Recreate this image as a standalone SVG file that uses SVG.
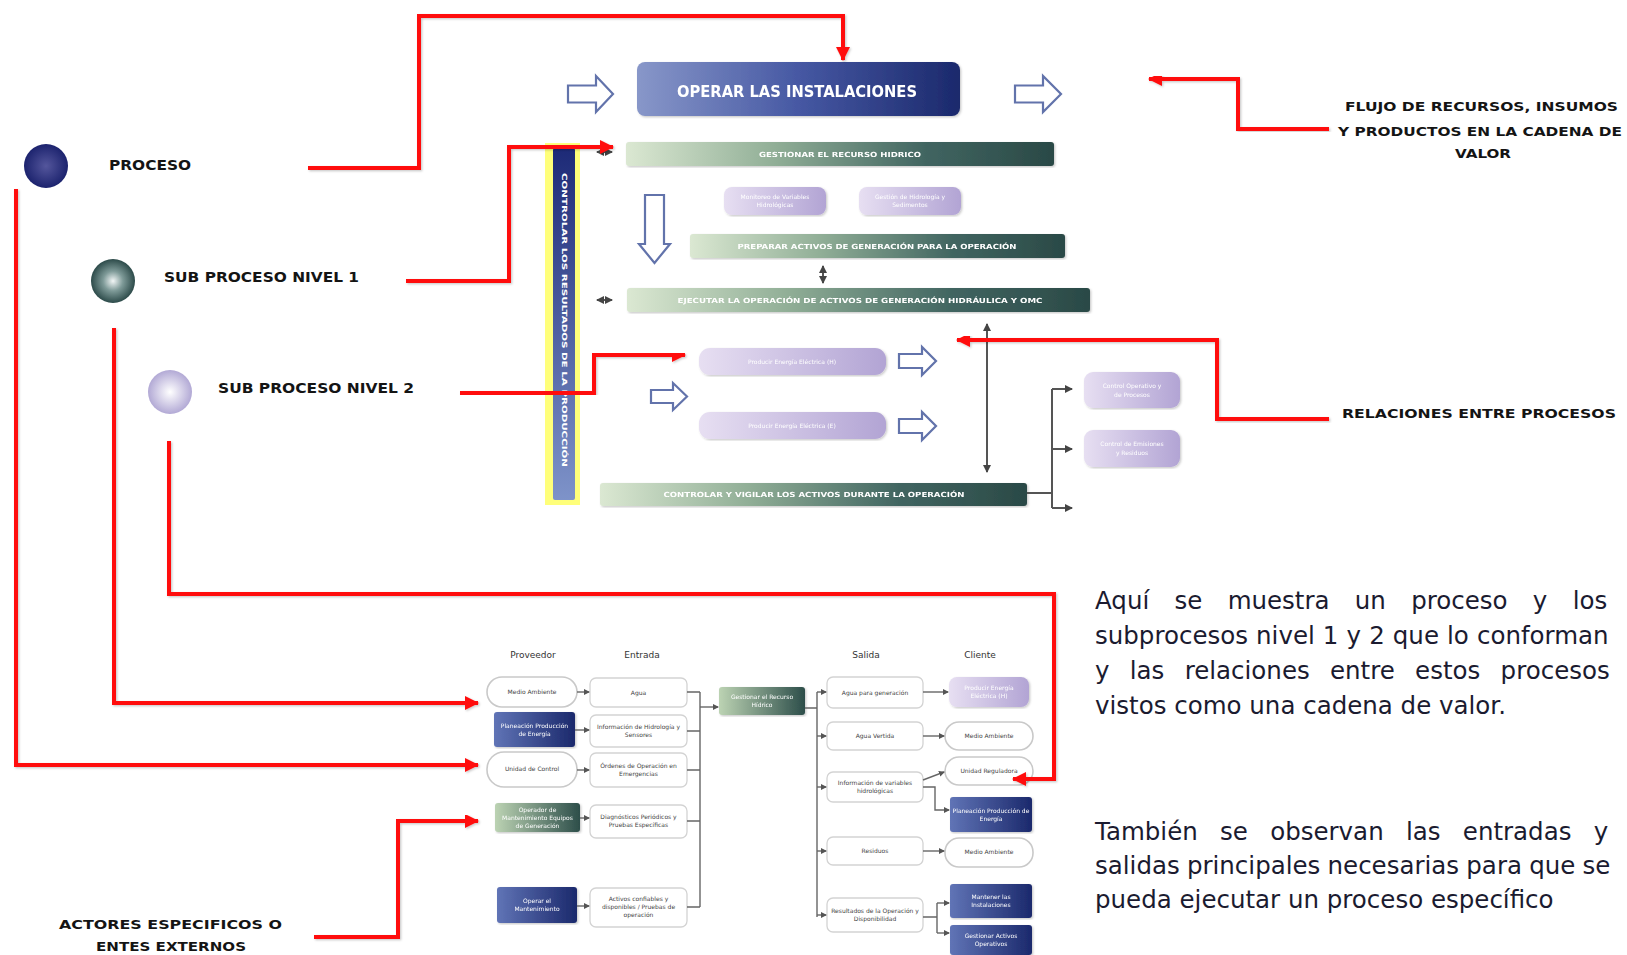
<svg xmlns="http://www.w3.org/2000/svg" width="1627" height="955" viewBox="0 0 1627 955">
  <style>
    .lbl { font-family: "DejaVu Sans", "Liberation Sans", sans-serif; font-weight: bold; font-size: 14px; fill: #141414; }
    .lbl-s { font-family: "DejaVu Sans", "Liberation Sans", sans-serif; font-weight: bold; font-size: 13px; fill: #141414; }
    .para { font-family: "DejaVu Sans", "Liberation Sans", sans-serif; font-size: 24.5px; fill: #1b1b30; }
    .title { font-family: "DejaVu Sans", "Liberation Sans", sans-serif; font-weight: bold; font-size: 16px; fill: #ffffff; text-anchor: middle; }
    .bar-t { font-family: "DejaVu Sans", "Liberation Sans", sans-serif; font-weight: bold; font-size: 7px; fill: #ffffff; text-anchor: middle; }
    .sw { font-family: "DejaVu Sans", "Liberation Sans", sans-serif; font-size: 6px; fill: #ffffff; text-anchor: middle; }
    .sd { font-family: "DejaVu Sans", "Liberation Sans", sans-serif; font-size: 6px; fill: #444444; text-anchor: middle; }
    .hdr { font-family: "DejaVu Sans", "Liberation Sans", sans-serif; font-size: 9px; fill: #333333; text-anchor: middle; }
    .hollow { fill: #ffffff; stroke: #6273ab; stroke-width: 2.2; }
    .red { fill: none; stroke: #ff0a0a; stroke-width: 4; stroke-linejoin: miter; marker-end: url(#redHead); filter: url(#shade); }
    .gray { fill: none; stroke: #555555; stroke-width: 2; }
    .gray-a { fill: none; stroke: #555555; stroke-width: 2; marker-end: url(#grayHead); }
    .gray-aa { fill: none; stroke: #555555; stroke-width: 2; marker-start: url(#grayHeadStart); marker-end: url(#grayHead); }
    .thin { fill: none; stroke: #666666; stroke-width: 1.4; }
    .thin-a { fill: none; stroke: #666666; stroke-width: 1.4; marker-end: url(#tinyHead); }
    .pill { fill: #ffffff; stroke: #c9c9c9; stroke-width: 1.6; }
    .wbox { fill: #ffffff; stroke: #d3d3d3; stroke-width: 1.3; }
  </style>
  <defs>
    <linearGradient id="gOperar" x1="0" y1="0" x2="1" y2="0">
      <stop offset="0" stop-color="#8897c9"/>
      <stop offset="0.5" stop-color="#4658a3"/>
      <stop offset="1" stop-color="#1b296c"/>
    </linearGradient>
    <linearGradient id="gBar" x1="0" y1="0" x2="1" y2="0">
      <stop offset="0" stop-color="#dbe8d2"/>
      <stop offset="0.35" stop-color="#90ae96"/>
      <stop offset="0.7" stop-color="#416561"/>
      <stop offset="1" stop-color="#2a4946"/>
    </linearGradient>
    <linearGradient id="gLav" x1="0" y1="0" x2="1" y2="0">
      <stop offset="0" stop-color="#e7dff2"/>
      <stop offset="1" stop-color="#b2a4d4"/>
    </linearGradient>
    <linearGradient id="gNavy" x1="0" y1="0" x2="1" y2="0">
      <stop offset="0" stop-color="#6074b6"/>
      <stop offset="1" stop-color="#1b296c"/>
    </linearGradient>
    <linearGradient id="gGreen" x1="0" y1="0" x2="1" y2="0">
      <stop offset="0" stop-color="#bcd3b3"/>
      <stop offset="1" stop-color="#2d4e4a"/>
    </linearGradient>
    <linearGradient id="gVert" x1="0" y1="0" x2="0" y2="1">
      <stop offset="0" stop-color="#1d2a77"/>
      <stop offset="1" stop-color="#7e93c9"/>
    </linearGradient>
    <radialGradient id="gC1" cx="0.5" cy="0.5" r="0.5">
      <stop offset="0" stop-color="#54569c"/>
      <stop offset="1" stop-color="#1c236e"/>
    </radialGradient>
    <radialGradient id="gC2" cx="0.5" cy="0.5" r="0.5">
      <stop offset="0" stop-color="#f2f6f6"/>
      <stop offset="0.45" stop-color="#7e9a98"/>
      <stop offset="1" stop-color="#2c4a49"/>
    </radialGradient>
    <radialGradient id="gC3" cx="0.5" cy="0.5" r="0.5">
      <stop offset="0" stop-color="#ffffff"/>
      <stop offset="1" stop-color="#b2a9d5"/>
    </radialGradient>
    <filter id="shade" x="-5%" y="-5%" width="110%" height="110%">
      <feDropShadow dx="1.2" dy="1.2" stdDeviation="1.2" flood-color="#000000" flood-opacity="0.22"/>
    </filter>
    <marker id="redHead" viewBox="0 0 14 14" refX="13" refY="7" markerWidth="14" markerHeight="14" markerUnits="userSpaceOnUse" orient="auto">
      <path d="M0,0 L14,7 L0,14 Z" fill="#ff0a0a"/>
    </marker>
    <marker id="grayHead" viewBox="0 0 8 8" refX="7" refY="4" markerWidth="8" markerHeight="8" markerUnits="userSpaceOnUse" orient="auto">
      <path d="M0,0 L8,4 L0,8 Z" fill="#444444"/>
    </marker>
    <marker id="grayHeadStart" viewBox="0 0 8 8" refX="7" refY="4" markerWidth="8" markerHeight="8" markerUnits="userSpaceOnUse" orient="auto-start-reverse">
      <path d="M0,0 L8,4 L0,8 Z" fill="#444444"/>
    </marker>
    <marker id="tinyHead" viewBox="0 0 6 6" refX="5" refY="3" markerWidth="6" markerHeight="6" markerUnits="userSpaceOnUse" orient="auto">
      <path d="M0,0 L6,3 L0,6 Z" fill="#555555"/>
    </marker>
  </defs>

  <rect width="1627" height="955" fill="#ffffff"/>

  <!-- legend -->
  <g id="legend-proceso">
    <circle cx="46" cy="166" r="22" fill="url(#gC1)"/>
    <text class="lbl" x="109" y="170" textLength="82" lengthAdjust="spacingAndGlyphs">PROCESO</text>
  </g>
  <g id="legend-subproceso-1">
    <circle cx="113" cy="281" r="22" fill="url(#gC2)"/>
    <text class="lbl" x="164" y="282" textLength="195" lengthAdjust="spacingAndGlyphs">SUB PROCESO NIVEL 1</text>
  </g>
  <g id="legend-subproceso-2">
    <circle cx="170" cy="392" r="22" fill="url(#gC3)"/>
    <text class="lbl" x="218" y="393" textLength="196" lengthAdjust="spacingAndGlyphs">SUB PROCESO NIVEL 2</text>
  </g>
  <g id="legend-actores">
    <text class="lbl-s" x="59" y="929" textLength="223" lengthAdjust="spacingAndGlyphs">ACTORES ESPECIFICOS O</text>
    <text class="lbl-s" x="96" y="951" textLength="150" lengthAdjust="spacingAndGlyphs">ENTES EXTERNOS</text>
  </g>
  <g id="label-flujo">
    <text class="lbl-s" x="1345" y="111" textLength="273" lengthAdjust="spacingAndGlyphs">FLUJO DE RECURSOS, INSUMOS</text>
    <text class="lbl-s" x="1338" y="136" textLength="284" lengthAdjust="spacingAndGlyphs">Y PRODUCTOS EN LA CADENA  DE</text>
    <text class="lbl-s" x="1455" y="158" textLength="56" lengthAdjust="spacingAndGlyphs">VALOR</text>
  </g>
  <g id="label-relaciones">
    <text class="lbl-s" x="1342" y="418" textLength="274" lengthAdjust="spacingAndGlyphs">RELACIONES ENTRE  PROCESOS</text>
  </g>

  <!-- process map -->
  <g id="flow-in">
    <path class="hollow" d="M568,85.5 H596 V76 L613,94 L596,112 V102.5 H568 Z"/>
  </g>
  <g id="operar-instalaciones" filter="url(#shade)">
    <rect x="637" y="62" width="323" height="54" rx="8" fill="url(#gOperar)"/>
    <text class="title" x="797" y="97" textLength="240" lengthAdjust="spacingAndGlyphs">OPERAR LAS INSTALACIONES</text>
  </g>
  <g id="flow-out">
    <path class="hollow" d="M1015,85.5 H1043 V76 L1061,94 L1043,112 V102.5 H1015 Z"/>
  </g>

  <g id="controlar-resultados">
    <rect x="545" y="143" width="35" height="362" fill="#ffff7a"/>
    <rect x="553" y="148" width="22" height="352" rx="2" fill="url(#gVert)"/>
    <text class="bar-t" transform="translate(561.5,320) rotate(90)" x="0" y="0" textLength="294" lengthAdjust="spacingAndGlyphs">CONTROLAR LOS RESULTADOS DE LA PRODUCCIÓN</text>
  </g>

  <g id="gestionar-recurso" filter="url(#shade)">
    <rect x="626" y="142" width="428" height="24" rx="3" fill="url(#gBar)"/>
    <text class="bar-t" x="840" y="156.5" textLength="162" lengthAdjust="spacingAndGlyphs">GESTIONAR EL RECURSO HIDRICO</text>
  </g>
  <g id="monitoreo-variables" filter="url(#shade)">
    <rect x="724" y="187" width="102" height="28" rx="8" fill="url(#gLav)"/>
    <text class="sw" x="775" y="199">Monitoreo de Variables</text>
    <text class="sw" x="775" y="207">Hidrológicas</text>
  </g>
  <g id="gestion-hidrologia" filter="url(#shade)">
    <rect x="859" y="187" width="102" height="28" rx="8" fill="url(#gLav)"/>
    <text class="sw" x="910" y="199">Gestión de Hidrología y</text>
    <text class="sw" x="910" y="207">Sedimentos</text>
  </g>
  <g id="flow-down">
    <path class="hollow" d="M645,195 H664 V244 H670 L654.5,263 L639,244 H645 Z"/>
  </g>
  <g id="preparar-activos" filter="url(#shade)">
    <rect x="690" y="234" width="375" height="24" rx="3" fill="url(#gBar)"/>
    <text class="bar-t" x="877" y="248.5" textLength="279" lengthAdjust="spacingAndGlyphs">PREPARAR ACTIVOS DE GENERACIÓN PARA LA OPERACIÓN</text>
  </g>
  <g id="ejecutar-operacion" filter="url(#shade)">
    <rect x="627" y="288" width="463" height="24" rx="3" fill="url(#gBar)"/>
    <text class="bar-t" x="860" y="302.5" textLength="365" lengthAdjust="spacingAndGlyphs">EJECUTAR LA OPERACIÓN DE ACTIVOS DE GENERACIÓN HIDRÁULICA Y OMC</text>
  </g>
  <g id="producir-h" filter="url(#shade)">
    <rect x="699" y="348" width="187" height="27" rx="11" fill="url(#gLav)"/>
    <text class="sw" x="792" y="364">Producir Energía Eléctrica (H)</text>
  </g>
  <g id="producir-e" filter="url(#shade)">
    <rect x="699" y="412" width="187" height="27" rx="11" fill="url(#gLav)"/>
    <text class="sw" x="792" y="428">Producir Energía Eléctrica (E)</text>
  </g>
  <g id="flow-producir">
    <path class="hollow" d="M651,390 H673 V383 L687,396.5 L673,410 V403 H651 Z"/>
    <path class="hollow" d="M899,354 H922 V347 L936,361 L922,375 V368 H899 Z"/>
    <path class="hollow" d="M899,419 H922 V412 L936,426 L922,440 V433 H899 Z"/>
  </g>
  <g id="controlar-vigilar" filter="url(#shade)">
    <rect x="600" y="483" width="427" height="23" rx="3" fill="url(#gBar)"/>
    <text class="bar-t" x="814" y="497" textLength="301" lengthAdjust="spacingAndGlyphs">CONTROLAR Y VIGILAR LOS ACTIVOS DURANTE LA OPERACIÓN</text>
  </g>
  <g id="control-operativo" filter="url(#shade)">
    <rect x="1084" y="372" width="96" height="36" rx="9" fill="url(#gLav)"/>
    <text class="sw" x="1132" y="388">Control Operativo y</text>
    <text class="sw" x="1132" y="397">de Procesos</text>
  </g>
  <g id="control-emisiones" filter="url(#shade)">
    <rect x="1084" y="430" width="96" height="37" rx="9" fill="url(#gLav)"/>
    <text class="sw" x="1132" y="446">Control de Emisiones</text>
    <text class="sw" x="1132" y="455">y Residuos</text>
  </g>

  <!-- SIPOC -->
  <g id="sipoc-headers">
    <text class="hdr" x="533" y="658">Proveedor</text>
    <text class="hdr" x="642" y="658">Entrada</text>
    <text class="hdr" x="866" y="658">Salida</text>
    <text class="hdr" x="980" y="658">Cliente</text>
  </g>
  <g id="prov-medio-ambiente">
    <rect class="pill" x="487" y="677" width="90" height="30" rx="15"/>
    <text class="sd" x="532" y="694">Medio Ambiente</text>
  </g>
  <g id="prov-planeacion" filter="url(#shade)">
    <rect x="494" y="712" width="81" height="35" rx="3" fill="url(#gNavy)"/>
    <text class="sw" x="534.5" y="728">Planeación Producción</text>
    <text class="sw" x="534.5" y="736">de Energía</text>
  </g>
  <g id="prov-unidad-control">
    <rect class="pill" x="487" y="752" width="90" height="35" rx="17"/>
    <text class="sd" x="532" y="771">Unidad de Control</text>
  </g>
  <g id="prov-operador" filter="url(#shade)">
    <rect x="495" y="803" width="85" height="29" rx="3" fill="url(#gGreen)"/>
    <text class="sw" x="537.5" y="812">Operador de</text>
    <text class="sw" x="537.5" y="820">Mantenimiento Equipos</text>
    <text class="sw" x="537.5" y="828">de Generación</text>
  </g>
  <g id="prov-operar-mantenimiento" filter="url(#shade)">
    <rect x="497" y="887" width="80" height="36" rx="3" fill="url(#gNavy)"/>
    <text class="sw" x="537" y="903">Operar el</text>
    <text class="sw" x="537" y="911">Mantenimiento</text>
  </g>

  <g id="ent-agua">
    <rect class="wbox" x="590" y="678" width="97" height="29" rx="6"/>
    <text class="sd" x="638.5" y="695">Agua</text>
  </g>
  <g id="ent-informacion">
    <rect class="wbox" x="590" y="715" width="97" height="32" rx="6"/>
    <text class="sd" x="638.5" y="729">Información de Hidrología y</text>
    <text class="sd" x="638.5" y="737">Sensores</text>
  </g>
  <g id="ent-ordenes">
    <rect class="wbox" x="590" y="753" width="97" height="34" rx="6"/>
    <text class="sd" x="638.5" y="768">Órdenes de Operación en</text>
    <text class="sd" x="638.5" y="776">Emergencias</text>
  </g>
  <g id="ent-diagnosticos">
    <rect class="wbox" x="590" y="805" width="97" height="33" rx="6"/>
    <text class="sd" x="638.5" y="819">Diagnósticos Periódicos y</text>
    <text class="sd" x="638.5" y="827">Pruebas Específicas</text>
  </g>
  <g id="ent-activos">
    <rect class="wbox" x="590" y="888" width="97" height="39" rx="6"/>
    <text class="sd" x="638.5" y="901">Activos confiables y</text>
    <text class="sd" x="638.5" y="909">disponibles / Pruebas de</text>
    <text class="sd" x="638.5" y="917">operación</text>
  </g>

  <g id="proceso-central" filter="url(#shade)">
    <rect x="719" y="687" width="86" height="28" rx="3" fill="url(#gGreen)"/>
    <text class="sw" x="762" y="699">Gestionar el Recurso</text>
    <text class="sw" x="762" y="707">Hídrico</text>
  </g>

  <g id="sal-agua-generacion">
    <rect class="wbox" x="827" y="677" width="96" height="31" rx="6"/>
    <text class="sd" x="875" y="695">Agua para generación</text>
  </g>
  <g id="sal-agua-vertida">
    <rect class="wbox" x="827" y="722" width="96" height="28" rx="6"/>
    <text class="sd" x="875" y="738">Agua Vertida</text>
  </g>
  <g id="sal-informacion">
    <rect class="wbox" x="827" y="772" width="96" height="30" rx="6"/>
    <text class="sd" x="875" y="785">Información de variables</text>
    <text class="sd" x="875" y="793">hidrológicas</text>
  </g>
  <g id="sal-residuos">
    <rect class="wbox" x="827" y="837" width="96" height="28" rx="6"/>
    <text class="sd" x="875" y="853">Residuos</text>
  </g>
  <g id="sal-resultados">
    <rect class="wbox" x="827" y="898" width="96" height="34" rx="6"/>
    <text class="sd" x="875" y="913">Resultados de la Operación y</text>
    <text class="sd" x="875" y="921">Disponibilidad</text>
  </g>

  <g id="cli-producir" filter="url(#shade)">
    <rect x="949" y="677" width="80" height="30" rx="8" fill="url(#gLav)"/>
    <text class="sw" x="989" y="690">Producir Energía</text>
    <text class="sw" x="989" y="698">Eléctrica (H)</text>
  </g>
  <g id="cli-medio-ambiente-1">
    <rect class="pill" x="945" y="722" width="88" height="28" rx="14"/>
    <text class="sd" x="989" y="738">Medio Ambiente</text>
  </g>
  <g id="cli-unidad-reguladora">
    <rect class="pill" x="945" y="757" width="88" height="28" rx="14"/>
    <text class="sd" x="989" y="773">Unidad Reguladora</text>
  </g>
  <g id="cli-planeacion" filter="url(#shade)">
    <rect x="950" y="797" width="82" height="35" rx="3" fill="url(#gNavy)"/>
    <text class="sw" x="991" y="813">Planeación Producción de</text>
    <text class="sw" x="991" y="821">Energía</text>
  </g>
  <g id="cli-medio-ambiente-2">
    <rect class="pill" x="945" y="838" width="88" height="29" rx="14"/>
    <text class="sd" x="989" y="854">Medio Ambiente</text>
  </g>
  <g id="cli-mantener" filter="url(#shade)">
    <rect x="950" y="884" width="82" height="34" rx="3" fill="url(#gNavy)"/>
    <text class="sw" x="991" y="899">Mantener las</text>
    <text class="sw" x="991" y="907">Instalaciones</text>
  </g>
  <g id="cli-gestionar-activos" filter="url(#shade)">
    <rect x="950" y="925" width="82" height="30" rx="3" fill="url(#gNavy)"/>
    <text class="sw" x="991" y="938">Gestionar Activos</text>
    <text class="sw" x="991" y="946">Operativos</text>
  </g>

  <!-- description, justified by word spacing -->
  <g id="descripcion">
    <text class="para" x="1095" y="609" word-spacing="17.5">Aquí se muestra un proceso y los</text>
    <text class="para" x="1095" y="644" word-spacing="0.3">subprocesos nivel 1 y 2 que lo conforman</text>
    <text class="para" x="1095" y="679" word-spacing="12.5">y las relaciones entre estos procesos</text>
    <text class="para" x="1095" y="714">vistos como una cadena de valor.</text>
    <text class="para" x="1095" y="840" word-spacing="14.5">También se observan las entradas y</text>
    <text class="para" x="1095" y="874" word-spacing="-0.6">salidas principales necesarias para que se</text>
    <text class="para" x="1095" y="908">pueda ejecutar un proceso específico</text>
  </g>

  <!-- connectors -->
  <g id="connectors">
    <!-- process map relations -->
    <path class="gray-aa" d="M597,152 H612"/>
    <path class="gray-aa" d="M597,300 H612"/>
    <path class="gray-aa" d="M823,266 V283"/>
    <path class="gray-aa" d="M987,324 V472"/>
    <path class="gray" d="M1027,493 H1052 M1052,389 V508"/>
    <path class="gray-a" d="M1052,389 H1072"/>
    <path class="gray-a" d="M1052,449 H1072"/>
    <path class="gray-a" d="M1052,508 H1072"/>

    <!-- SIPOC links -->
    <path class="thin-a" d="M577,692 H589"/>
    <path class="thin-a" d="M575,730 H589"/>
    <path class="thin-a" d="M577,770 H589"/>
    <path class="thin-a" d="M580,818 H589"/>
    <path class="thin-a" d="M577,906 H589"/>
    <path class="thin" d="M687,692 H700 M687,731 H700 M687,770 H700 M687,821 H700 M687,907 H700 M700,692 V907"/>
    <path class="thin-a" d="M700,707 H718"/>
    <path class="thin" d="M805,708 H817 M817,692 V917"/>
    <path class="thin-a" d="M817,692 H826"/>
    <path class="thin-a" d="M817,736 H826"/>
    <path class="thin-a" d="M817,787 H826"/>
    <path class="thin-a" d="M817,851 H826"/>
    <path class="thin-a" d="M817,915 H826"/>
    <path class="thin-a" d="M923,692 H948"/>
    <path class="thin-a" d="M923,736 H944"/>
    <path class="thin-a" d="M923,780 L944,772"/>
    <path class="thin-a" d="M923,787 H935 V810 H949"/>
    <path class="thin-a" d="M923,851 H944"/>
    <path class="thin" d="M923,917 H937 M937,903 V933"/>
    <path class="thin-a" d="M937,903 H949"/>
    <path class="thin-a" d="M937,933 H949"/>

    <!-- callout lines -->
    <path class="red" d="M308,168 H419 V16 H843 V60"/>
    <path class="red" d="M406,281 H509 V147 H613"/>
    <path class="red" d="M460,393 H594 V355 H685"/>
    <path class="red" d="M169,441 V594 H1054 V779 H1013"/>
    <path class="red" d="M114,328 V703 H478"/>
    <path class="red" d="M16,189 V765 H478"/>
    <path class="red" d="M314,937 H398 V821 H478"/>
    <path class="red" d="M1329,129 H1238 V79 H1149"/>
    <path class="red" d="M1329,419 H1217 V340 H957"/>
  </g>
</svg>
